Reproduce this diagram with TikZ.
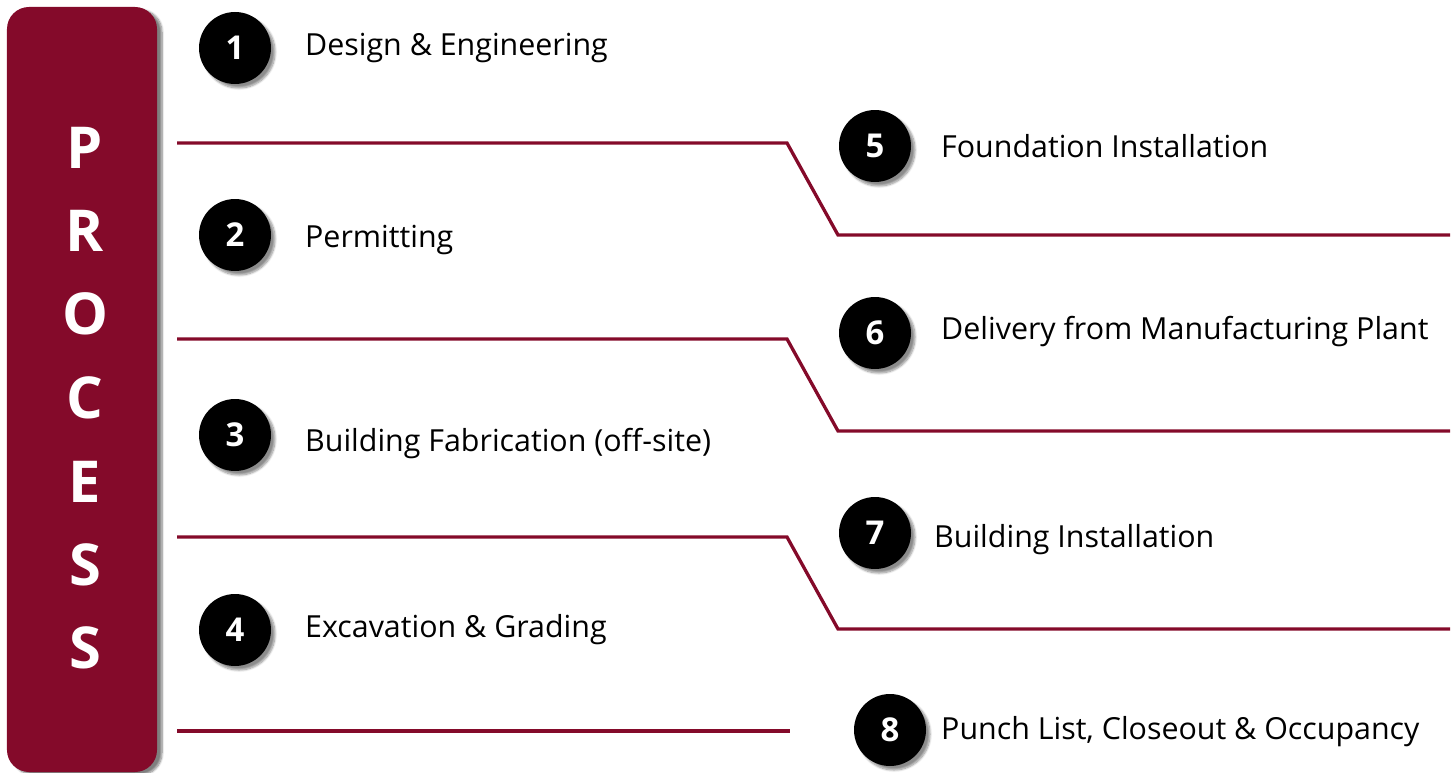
\documentclass[tikz,border=0pt]{standalone}
\usepackage{fontspec}
\setmainfont{Open Sans}
\usetikzlibrary{shadows,shadows.blur}
\definecolor{crimson}{HTML}{840A2A}
\begin{document}
\begin{tikzpicture}[x=1bp,y=-1bp,
  numcirc/.style={circle,fill=black,minimum size=72bp,inner sep=0pt,text=white,
    font=\fontsize{33}{34}\selectfont\bfseries,
    blur shadow={shadow xshift=4bp,shadow yshift=-4bp,shadow blur steps=8,shadow opacity=45}},
  steptext/.style={anchor=west,inner sep=0pt,font=\fontsize{30.5}{34}\selectfont},
  divline/.style={draw=crimson,line width=3.3bp},
  barletter/.style={text=white,font=\fontsize{58}{60}\selectfont\bfseries}]
\useasboundingbox (0,0) rectangle (1453,772);
\node[fill=crimson,rounded corners=22bp,minimum width=150bp,minimum height=765bp,inner sep=0pt,
  blur shadow={shadow xshift=5bp,shadow yshift=-3bp,shadow blur steps=8,shadow opacity=50}] (bar) at (82,389.5) {};
\foreach \l/\y [count=\i] in {P/148,R/231,O/314,C/398,E/482,S/565,S/648}
  \node[barletter] (L\i) at (85,\y) {\l};
% circles
\node[numcirc] (c1) at (235,48) {1};
\node[numcirc] (c2) at (235,235) {2};
\node[numcirc] (c3) at (235,435) {3};
\node[numcirc] (c4) at (235,630) {4};
\node[numcirc] (c5) at (875,146) {5};
\node[numcirc] (c6) at (875,333) {6};
\node[numcirc] (c7) at (875,533) {7};
\node[numcirc] (c8) at (890,730) {8};
% texts
\node[steptext] (t1) at (305,48) {Design \& Engineering};
\node[steptext] (t2) at (305,240) {Permitting};
\node[steptext] (t3) at (305,444) {Building Fabrication (off-site)};
\node[steptext] (t4) at (305,630) {Excavation \& Grading};
\node[steptext] (t5) at (941,146) {Foundation Installation};
\node[steptext] (t6) at (941,332) {Delivery from Manufacturing Plant};
\node[steptext] (t7) at (934,540) {Building Installation};
\node[steptext] (t8) at (941,732) {Punch List, Closeout \& Occupancy};
% lines
\coordinate (a1) at (177,143); \coordinate (b1) at (787,143); \coordinate (d1) at (838,235); \coordinate (e1) at (1450,235);
\coordinate (a2) at (177,339); \coordinate (b2) at (787,339); \coordinate (d2) at (838,431); \coordinate (e2) at (1450,431);
\coordinate (a3) at (177,537); \coordinate (b3) at (787,537); \coordinate (d3) at (838,629); \coordinate (e3) at (1450,629);
\coordinate (a4) at (177,731); \coordinate (b4) at (790,731);
\draw[divline] (a1) -- (b1) -- (d1) -- (e1);
\draw[divline] (a2) -- (b2) -- (d2) -- (e2);
\draw[divline] (a3) -- (b3) -- (d3) -- (e3);
\draw[divline] (a4) -- (b4);
\end{tikzpicture}
\end{document}
